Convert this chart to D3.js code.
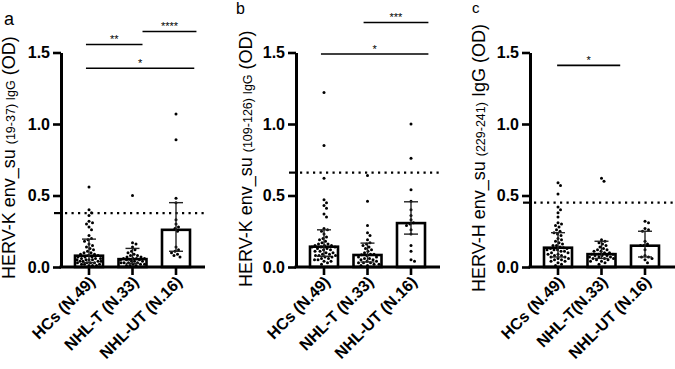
<!DOCTYPE html>
<html>
<head>
<meta charset="utf-8">
<script src="https://cdn.jsdelivr.net/npm/d3@7"></script>
<style>
  body { margin: 0; background: #fff; }
  svg { font-family: "Liberation Sans", Arial, sans-serif; }
</style>
</head>
<body>
<svg width="675" height="369"></svg>
<script>
// --- data ---
var catsAB = ["HCs (N.49)", "NHL-T (N.33)", "NHL-UT (N.16)"];
var catsC = ["HCs (N.49)", "NHL-T(N.33)", "NHL-UT (N.16)"];
var yTicks = [0, 0.5, 1.0, 1.5];

// panel a : HERV-K env_su (19-37)
var hcsA = [0.56,0.40,0.38,0.36,0.32,0.31,0.30,0.28,0.26,0.22,0.20,0.19,0.18,0.16,0.15,0.14,0.13,0.12,0.11,0.10,
            0.10,0.09,0.09,0.08,0.08,0.07,0.07,0.07,0.06,0.06,0.06,0.05,0.05,0.05,0.05,0.04,0.04,0.04,0.04,0.03,
            0.03,0.03,0.03,0.02,0.02,0.02,0.01,0.01,0.01];
var ntA = [0.50,0.17,0.16,0.14,0.12,0.11,0.10,0.09,0.08,0.08,0.07,0.07,0.06,0.06,0.06,0.06,0.055,0.05,0.05,0.05,
           0.04,0.04,0.04,0.03,0.03,0.03,0.03,0.02,0.02,0.02,0.01,0.01,0.01];
var utA = [1.07,0.89,0.48,0.45,0.33,0.30,0.28,0.27,0.25,0.14,0.12,0.11,0.10,0.09,0.08,0.07];
var medA = [0.079, 0.055, 0.26];
var q1A = [0.03, 0.025, 0.11];
var q3A = [0.195, 0.13, 0.45];
var cutA = 0.377;

// panel b : HERV-K env_su (109-126)
var hcsB = [1.22,0.85,0.62,0.47,0.45,0.43,0.41,0.37,0.35,0.27,0.26,0.25,0.23,0.21,0.20,0.19,0.18,0.17,0.16,0.16,
            0.15,0.15,0.15,0.14,0.14,0.14,0.13,0.13,0.12,0.12,0.11,0.11,0.10,0.10,0.09,0.09,0.08,0.08,0.08,0.07,
            0.07,0.06,0.06,0.05,0.05,0.04,0.04,0.03,0.02];
var ntB = [0.64,0.46,0.29,0.24,0.22,0.19,0.17,0.16,0.15,0.14,0.13,0.12,0.11,0.10,0.09,0.09,0.085,0.08,0.07,0.07,
           0.06,0.06,0.05,0.05,0.04,0.04,0.03,0.03,0.03,0.02,0.02,0.01,0.01];
var utB = [1.00,0.76,0.54,0.46,0.40,0.36,0.33,0.31,0.30,0.29,0.26,0.23,0.15,0.11,0.05,0.04];
var medB = [0.142, 0.084, 0.307];
var q1B = [0.075, 0.035, 0.23];
var q3B = [0.26, 0.167, 0.456];
var cutB = 0.66;

// panel c : HERV-H env_su (229-241)
var hcsC = [0.59,0.57,0.51,0.42,0.40,0.38,0.35,0.31,0.30,0.29,0.28,0.26,0.25,0.24,0.23,0.22,0.20,0.19,0.18,0.17,
            0.16,0.15,0.15,0.14,0.135,0.13,0.13,0.12,0.12,0.12,0.11,0.11,0.10,0.10,0.09,0.09,0.08,0.08,0.07,0.07,
            0.06,0.06,0.05,0.05,0.04,0.04,0.03,0.02,0.01];
var ntC = [0.62,0.60,0.19,0.18,0.17,0.16,0.15,0.14,0.13,0.12,0.12,0.11,0.11,0.10,0.10,0.09,0.09,0.09,0.08,0.08,
           0.08,0.07,0.07,0.07,0.06,0.06,0.06,0.05,0.05,0.04,0.04,0.03,0.02];
var utC = [0.32,0.31,0.27,0.26,0.25,0.18,0.16,0.15,0.15,0.12,0.08,0.07,0.07,0.06,0.05,0.03];
var medC = [0.135, 0.09, 0.149];
var q1C = [0.07, 0.06, 0.07];
var q3C = [0.24, 0.18, 0.25];
var cutC = 0.45;

// significance brackets: [from index, to index, level, stars]
var sigA = [[-0.07, 1.23, 1.556, "**"], [1.23, 2.47, 1.647, "****"], [-0.07, 2.42, 1.39, "*"]];
var sigB = [[0.91, 2.40, 1.71, "***"], [-0.07, 2.40, 1.49, "*"]];
var sigC = [[-0.02, 1.43, 1.41, "*"]];

// --- layout ---
var svg = d3.select("svg");

var panels = [
  {letter: "a", lx: 4, ly: 25, lsize: 18, axisX: 61, endX: 205, cats: catsAB,
   groups: [hcsA, ntA, utA], med: medA, q1: q1A, q3: q3A, cut: cutA, sig: sigA,
   title: ["HERV-K env_su ", "(19-37) IgG", " (OD)"], titleX: 15, titleY: 279},
  {letter: "b", lx: 236, ly: 14, lsize: 16, axisX: 296, endX: 440, cats: catsAB,
   groups: [hcsB, ntB, utB], med: medB, q1: q1B, q3: q3B, cut: cutB, sig: sigB,
   title: ["HERV-K env_su ", "(109-126) IgG", " (OD)"], titleX: 252, titleY: 287},
  {letter: "c", lx: 472, ly: 13, lsize: 15, axisX: 530, endX: 675, cats: catsC,
   groups: [hcsC, ntC, utC], med: medC, q1: q1C, q3: q3C, cut: cutC, sig: sigC,
   title: ["HERV-H env_su ", "(229-241)", " IgG (OD)"], titleX: 485, titleY: 292}
];

var y = d3.scaleLinear().domain([0, 1.5]).range([267, 52.5]);

// simple deterministic beeswarm offsets
function swarm(vals, r, maxOff) {
  var placed = [];
  var sorted = vals.map(function(v, i) { return {v: v, i: i}; })
      .sort(function(a, b) { return b.v - a.v; });
  sorted.forEach(function(d) {
    var py = y(d.v), best = 0, bestScore = -1;
    for (var k = 0; k <= 4 * maxOff; k++) {
      var off = (k % 2 ? 1 : -1) * Math.ceil(k / 2) * 0.5;
      if (Math.abs(off) > maxOff) continue;
      var minD = Infinity;
      placed.forEach(function(p) {
        var dd = Math.hypot(p.x - off, p.y - py);
        if (dd < minD) minD = dd;
      });
      if (minD >= 2 * r) { best = off; bestScore = Infinity; break; }
      if (minD > bestScore) { bestScore = minD; best = off; }
    }
    placed.push({x: best, y: py, v: d.v});
  });
  return placed;
}

panels.forEach(function(p) {
  var g = svg.append("g");
  var x = d3.scaleLinear().domain([0, 1]).range([p.axisX + 28, p.axisX + 71.5]);

  // panel letter
  g.append("text").attr("x", p.lx).attr("y", p.ly)
      .style("font-size", p.lsize + "px").text(p.letter);

  // y title
  var t = g.append("text")
      .attr("transform", "translate(" + p.titleX + "," + p.titleY + ") rotate(-90)")
      .style("font-size", "18px");
  t.append("tspan").text(p.title[0]);
  t.append("tspan").style("font-size", "12.5px").text(p.title[1]);
  t.append("tspan").text(p.title[2]);

  // cutoff dotted line, with a short tick on the axis
  g.append("line")
      .attr("x1", p.axisX + 4).attr("x2", p.endX)
      .attr("y1", y(p.cut)).attr("y2", y(p.cut))
      .attr("stroke", "#000").attr("stroke-width", 2.4)
      .attr("stroke-dasharray", "2.2 4.3");
  g.append("line")
      .attr("x1", p.axisX - 7).attr("x2", p.axisX)
      .attr("y1", y(p.cut)).attr("y2", y(p.cut))
      .attr("stroke", "#000").attr("stroke-width", 2.2);

  // bars (median)
  g.selectAll(".bar").data(p.med).enter().append("rect")
      .attr("x", function(d, i) { return x(i) - 14; })
      .attr("y", function(d) { return y(d); })
      .attr("width", 28)
      .attr("height", function(d) { return y(0) - y(d); })
      .attr("fill", "#fff").attr("stroke", "#000").attr("stroke-width", 2.6);

  // dots
  p.groups.forEach(function(vals, i) {
    var pts = swarm(vals, 1.75, 12);
    g.selectAll(null).data(pts).enter().append("circle")
        .attr("cx", function(d) { return x(i) + d.x; })
        .attr("cy", function(d) { return d.y; })
        .attr("r", 1.5).attr("fill", "#000");
  });

  // whiskers (interquartile range)
  p.med.forEach(function(m, i) {
    var cx = x(i);
    g.append("line").attr("x1", cx).attr("x2", cx)
        .attr("y1", y(p.q1[i])).attr("y2", y(p.q3[i]))
        .attr("stroke", "#222").attr("stroke-width", 1.4);
    [p.q1[i], p.q3[i]].forEach(function(q) {
      g.append("line").attr("x1", cx - 7).attr("x2", cx + 7)
          .attr("y1", y(q)).attr("y2", y(q))
          .attr("stroke", "#222").attr("stroke-width", 1.4);
    });
  });

  // y axis
  var ya = g.append("g").attr("transform", "translate(" + p.axisX + ",0)")
      .call(d3.axisLeft(y).tickValues(yTicks).tickFormat(d3.format(".1f"))
            .tickSize(8).tickPadding(3).tickSizeOuter(0));
  ya.select(".domain").attr("stroke-width", 3);
  ya.selectAll(".tick line").attr("stroke-width", 2.6);
  ya.selectAll(".tick text").style("font-size", "16px").style("font-weight", "bold")
      .style("font-family", "'Liberation Sans', Arial, sans-serif").attr("fill", "#000");

  // x axis
  g.append("line").attr("x1", p.axisX - 1.5).attr("x2", p.endX)
      .attr("y1", y(0)).attr("y2", y(0))
      .attr("stroke", "#000").attr("stroke-width", 3);
  p.cats.forEach(function(c, i) {
    g.append("line").attr("x1", x(i)).attr("x2", x(i))
        .attr("y1", y(0)).attr("y2", y(0) + 8)
        .attr("stroke", "#000").attr("stroke-width", 2.6);
    g.append("text")
        .attr("transform", "translate(" + (x(i) + 7) + "," + (y(0) + 16) + ") rotate(-45)")
        .attr("text-anchor", "end")
        .style("font-size", "16px").style("font-weight", "bold")
        .text(c);
  });

  // significance brackets
  p.sig.forEach(function(s) {
    g.append("line").attr("x1", x(s[0])).attr("x2", x(s[1]))
        .attr("y1", y(s[2])).attr("y2", y(s[2]))
        .attr("stroke", "#000").attr("stroke-width", 1.6);
    g.append("text").attr("x", (x(s[0]) + x(s[1])) / 2).attr("y", y(s[2]) - 1)
        .attr("text-anchor", "middle").style("font-size", "11px").text(s[3]);
  });
});
</script>
</body>
</html>
